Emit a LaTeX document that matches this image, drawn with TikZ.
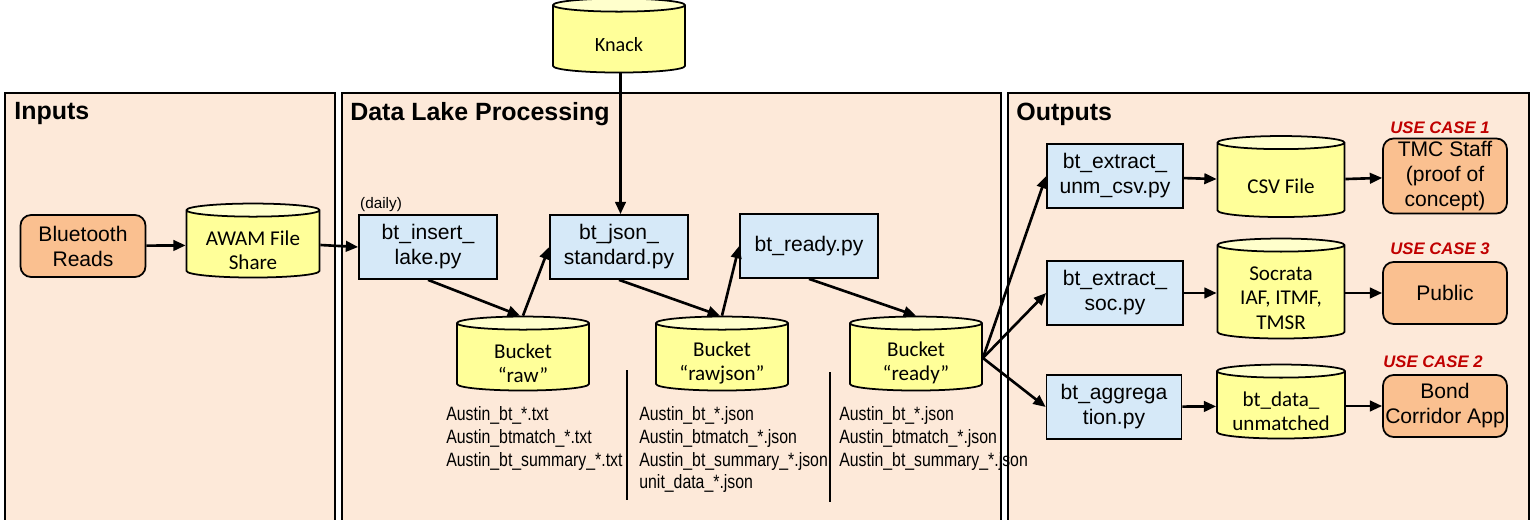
\documentclass[tikz,border=0pt]{standalone}
\usepackage{fontspec}
\setmainfont{Liberation Sans}
\newfontfamily\calibrifont{Carlito}
\newfontfamily\narrowfont[FakeStretch=0.82]{Liberation Sans}
\usetikzlibrary{shapes.geometric, arrows.meta, positioning}
\definecolor{panelfill}{RGB}{253,233,217}
\definecolor{scriptblue}{RGB}{214,233,248}
\definecolor{sourceorange}{RGB}{250,192,144}
\definecolor{storeyellow}{RGB}{255,255,153}
\definecolor{storetop}{RGB}{255,255,204}
\definecolor{usecasered}{RGB}{192,0,0}

\tikzset{
    panel/.style={draw, line width=1.1pt, fill=panelfill},
    paneltitle/.style={anchor=west, inner sep=0pt, font=\bfseries\fontsize{14.2}{16}\selectfont},
    script/.style={draw, line width=1pt, fill=scriptblue, align=center, inner sep=1pt,
        minimum width=2.76cm, minimum height=1.28cm, font=\fontsize{12}{14.2}\selectfont},
    source/.style={draw, line width=1pt, fill=sourceorange, rounded corners=6pt, align=center,
        inner sep=1pt, minimum width=2.5cm, minimum height=1.24cm, font=\fontsize{12}{14.2}\selectfont},
    store/.style={cylinder, shape border rotate=90, aspect=0.14, draw, line width=1pt,
        cylinder uses custom fill, cylinder body fill=storeyellow, cylinder end fill=storetop,
        text width=1.8cm, inner sep=1pt, minimum width=2.64cm, minimum height=1.48cm},
    storetext/.style={align=center, inner sep=0pt, yshift=-0.1cm,
        font=\calibrifont\fontsize{12}{13.8}\selectfont},
    flow/.style={-{Triangle[length=7pt,width=6pt]}, line width=1.5pt},
    filelist/.style={anchor=north west, align=left, inner sep=0pt, font=\narrowfont\fontsize{11}{13}\selectfont},
    usecase/.style={text=usecasered, inner sep=0pt, font=\bfseries\itshape\fontsize{9.5}{11}\selectfont},
    divider/.style={line width=1pt}
}

\begin{document}
\begin{tikzpicture}[x=0.02cm, y=-0.02cm]
    \useasboundingbox (0,0) rectangle (1531,520);
    \clip (0,0) rectangle (1531,520);

    % Panels
    \draw[panel] (5,93) rectangle (335,530);
    \draw[panel] (342,93) rectangle (1001,530);
    \draw[panel] (1008,93) rectangle (1529,530);
    \node[paneltitle] (inputstitle) at (14,114) {Inputs};
    \node[paneltitle] (laketitle) at (350,114) {Data Lake Processing};
    \node[paneltitle] (outputstitle) at (1016,114) {Outputs};

    % Inputs
    \node[source] (bluetooth) at (83,246) {Bluetooth\\Reads};
    \node[store, minimum width=2.66cm] (awam) at (253,245) {};
    \node[storetext] (awamtext) at (awam.center) {AWAM File\\Share};

    % Data lake processing
    \node[store] (knack) at (619,40) {};
    \node[storetext, font=\calibrifont\fontsize{11.5}{13}\selectfont] (knacktext) at (knack.center) {Knack};
    \node[script] (insert) at (428,247) {bt\_insert\_\\lake.py};
    \node[anchor=south west, inner sep=1pt, font=\fontsize{8.7}{10}\selectfont] (daily) at (insert.north west) {(daily)};
    \node[script] (json) at (619,247) {bt\_json\_\\standard.py};
    \node[script] (ready) at (809,246) {bt\_ready.py};
    \node[store] (raw) at (523,358) {};
    \node[storetext] (rawtext) at (raw.center) {Bucket\\“raw”};
    \node[store] (rawjson) at (722,358) {};
    \node[storetext] (rawjsontext) at (rawjson.center) {Bucket\\“rawjson”};
    \node[store] (readybucket) at (916,358) {};
    \node[storetext] (readytext) at (readybucket.center) {Bucket\\“ready”};

    % File lists below the buckets
    \node[filelist] (rawfiles) at (446,406) {Austin\_bt\_*.txt\\Austin\_btmatch\_*.txt\\Austin\_bt\_summary\_*.txt};
    \node[filelist] (rawjsonfiles) at (639,406) {Austin\_bt\_*.json\\Austin\_btmatch\_*.json\\Austin\_bt\_summary\_*.json\\unit\_data\_*.json};
    \node[filelist] (readyfiles) at (839,406) {Austin\_bt\_*.json\\Austin\_btmatch\_*.json\\Austin\_bt\_summary\_*.json};
    \draw[divider] (627,370) -- (627,500);
    \draw[divider] (830,372) -- (830,502);

    % Outputs
    \node[script, minimum width=2.72cm] (extractcsv) at (1115,176) {bt\_extract\_\\unm\_csv.py};
    \node[script, minimum width=2.72cm] (extractsoc) at (1115,293) {bt\_extract\_\\soc.py};
    \node[script, minimum width=2.7cm] (aggregation) at (1114,407) {bt\_aggrega\\tion.py};
    \node[store, minimum width=2.54cm, minimum height=1.62cm] (csvfile) at (1281,181) {};
    \node[storetext] (csvtext) at (csvfile.center) {CSV File};
    \node[store, minimum width=2.54cm, minimum height=2.0cm] (socrata) at (1281,293) {};
    \node[storetext] (socratatext) at (socrata.center) {Socrata\\IAF, ITMF,\\TMSR};
    \node[store, minimum width=2.56cm] (unmatched) at (1281,406) {};
    \node[storetext] (unmatchedtext) at (unmatched.center) {bt\_data\_\\unmatched};
    \node[source, minimum width=2.48cm, minimum height=1.5cm] (tmc) at (1445,176) {TMC Staff\\(proof of\\concept)};
    \node[source, minimum width=2.48cm] (public) at (1445,293) {Public};
    \node[source, minimum width=2.48cm] (bond) at (1445,406) {Bond\\Corridor App};
    \node[usecase] (usecase1) at (1440,128) {USE CASE 1};
    \node[usecase] (usecase3) at (1440,249) {USE CASE 3};
    \node[usecase] (usecase2) at (1433,362) {USE CASE 2};

    % Flows
    \draw[flow] ([xshift=0.03cm]knack.south) -- ([xshift=0.03cm]json.north);
    \draw[flow] (bluetooth) -- (awam);
    \draw[flow] (awam.east) -- (insert.west);
    \draw[flow] (insert.south) -- ([xshift=-0.06cm]raw.north);
    \draw[flow] (raw.north) -- (json.west);
    \draw[flow] (json.south) -- ([xshift=-0.04cm]rawjson.north);
    \draw[flow] (rawjson.north) -- (ready.west);
    \draw[flow] (ready.south) -- (readybucket.north);
    \draw[flow] (readybucket.east) -- (extractcsv.west);
    \draw[flow] (readybucket.east) -- (extractsoc.west);
    \draw[flow] (readybucket.east) -- (aggregation.west);
    \draw[flow] (extractcsv) -- (csvfile);
    \draw[flow] (csvfile) -- (tmc);
    \draw[flow] (extractsoc) -- (socrata);
    \draw[flow] (socrata) -- (public);
    \draw[flow] (aggregation) -- (unmatched);
    \draw[flow] (unmatched) -- (bond);
\end{tikzpicture}
\end{document}
